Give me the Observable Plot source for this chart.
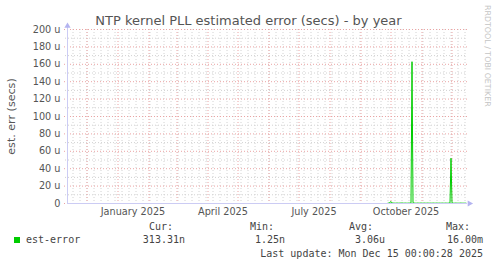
<!DOCTYPE html>
<html><head><meta charset="utf-8">
<script src="https://cdn.jsdelivr.net/npm/d3@7"></script>
<script src="https://cdn.jsdelivr.net/npm/@observablehq/plot@0.6"></script>
<style>
body{margin:0;background:#fff;}
#wrap{position:relative;width:497px;height:264px;background:#fff;overflow:hidden;}
#chart{position:absolute;left:0;top:0;}
.t{position:absolute;white-space:pre;line-height:1;}
.mono{font-family:"DejaVu Sans Mono",monospace;font-size:10px;color:#444;}
</style></head><body>
<div id="wrap">
  <div id="chart"></div>
  <div class="t" id="title" style="left:0;width:497px;text-align:center;top:14px;font-family:'DejaVu Sans';font-size:13px;color:#555;"></div>
  <div class="t" id="wm" style="left:483px;top:5px;writing-mode:vertical-rl;font-family:'DejaVu Sans';font-size:7.9px;color:#c4c4c4;"></div>
  <div id="legend"></div>
</div>
<script>
// ---- data ----
const titleText = "NTP kernel PLL estimated error (secs) - by year";
const yAxisLabel = "est. err (secs)";
const watermark = "RRDTOOL / TOBI OETIKER";
const seriesName = "est-error";
const seriesColor = "#00cc00";
// daily averages (microseconds), starting 2025-09-28
const firstDay = new Date(2025, 8, 28);
const errorMicros = [
  0.4, 0.5, 1.2,
  2.3, 0.6, 0.4, 0.5, 0.3, 0.4, 0.5, 0.4, 0.3, 0.5, 0.4, 0.6, 0.4, 0.3, 0.5, 0.4,
  0.3, 0.4, 0.5, 0.4, 0.6, 163, 0.8, 0.5, 0.4, 0.3, 0.4, 0.5, 0.3, 0.4, 0.5,
  0.4, 0.3, 0.5, 0.4, 0.3, 0.4, 0.5, 0.3, 0.4, 0.4, 0.3, 0.5, 0.4, 0.3, 0.4,
  0.5, 0.3, 0.4, 0.4, 0.3, 0.5, 0.4, 0.3, 0.4, 0.5, 0.3, 0.4, 0.4, 0.6, 52,
  0.7, 0.4, 0.3, 0.4, 0.5, 0.3, 0.4, 0.3, 0.4, 0.5, 0.3, 0.4, 0.3, 0.4, 0.31
];
const yTickValues = [0, 20, 40, 60, 80, 100, 120, 140, 160, 180, 200];
const yTickLabels = ["0", "20 u", "40 u", "60 u", "80 u", "100 u", "120 u", "140 u", "160 u", "180 u", "200 u"];
const yMinorValues = [10, 30, 50, 70, 90, 110, 130, 150, 170, 190];
const xLabelDates = [new Date(2025, 0, 16), new Date(2025, 3, 16), new Date(2025, 6, 16), new Date(2025, 9, 16)];
const xLabelTexts = ["January 2025", "April 2025", "July 2025", "October 2025"];
const statHeaders = ["Cur:", "Min:", "Avg:", "Max:"];
const statValues = ["313.31n", "1.25n", "3.06u", "16.00m"];
const lastUpdate = "Last update: Mon Dec 15 00:00:28 2025";

// ---- build ----
const xStart = new Date(2024, 10, 11, 12), xEnd = new Date(2025, 11, 16, 12);
const data = errorMicros.map((v, i) => ({date: d3.timeDay.offset(firstDay, i), value: v}));
const monthStarts = d3.timeMonth.range(xStart, xEnd);
const weekStarts = d3.timeWeek.range(xStart, xEnd);
const majorCol = "#eba4a4", minorCol = "#d2d2d2", axisCol = "#ccccf4", arrowCol = "#b4b4f0";

const chart = Plot.plot({
  width: 497, height: 224,
  marginLeft: 67, marginRight: 30, marginTop: 29, marginBottom: 21,
  style: {background: "transparent", fontFamily: "'DejaVu Sans'", fontSize: "9.7px", color: "#555", overflow: "visible"},
  x: {type: "time", domain: [xStart, xEnd]},
  y: {domain: [0, 200]},
  marks: [
    Plot.ruleY(yMinorValues, {stroke: minorCol, strokeDasharray: "1,2", insetLeft: -2}),
    Plot.ruleX(weekStarts, {stroke: minorCol, strokeDasharray: "1,2", insetBottom: -2}),
    Plot.ruleY(yTickValues, {stroke: majorCol, strokeDasharray: "1,2", insetLeft: -3}),
    Plot.ruleX(monthStarts, {stroke: majorCol, strokeDasharray: "1,2", insetBottom: -3}),
    Plot.ruleY([0], {stroke: axisCol}),
    Plot.ruleX([xStart], {stroke: axisCol, insetTop: -4}),
    Plot.lineY(data, {x: "date", y: "value", stroke: seriesColor, strokeWidth: 1, clip: true}),
    Plot.dot([{x: xEnd, y: 0}], {x: "x", y: "y", symbol: "triangle", rotate: 90, r: 2.3, fill: arrowCol, stroke: null, dx: 2}),
    Plot.dot([{x: xStart, y: 200}], {x: "x", y: "y", symbol: "triangle", r: 2.3, fill: arrowCol, stroke: null, dy: -3.5}),
    Plot.axisY(yTickValues, {tickSize: 0, tickPadding: 7, tickFormat: (d, i) => yTickLabels[i], label: null, fill: "#555"}),
    Plot.axisX(xLabelDates, {tickSize: 0, tickPadding: 5, tickFormat: (d, i) => xLabelTexts[i], label: null, fill: "#555"}),
    Plot.text([yAxisLabel], {frameAnchor: "left", rotate: -90, dx: -56, fontSize: 11.1, fill: "#555", textAnchor: "middle"})
  ]
});
document.getElementById("chart").appendChild(chart);
document.getElementById("title").textContent = titleText;
document.getElementById("wm").textContent = watermark;

const legend = document.getElementById("legend");
function addText(txt, style) {
  const d = document.createElement("div");
  d.className = "t mono";
  d.textContent = txt;
  Object.assign(d.style, style);
  legend.appendChild(d);
}
const sw = document.createElement("div");
Object.assign(sw.style, {position: "absolute", left: "14px", top: "237px", width: "6px", height: "6px", background: seriesColor});
legend.appendChild(sw);
addText(seriesName, {left: "26px", top: "235px"});
const headerLefts = [149, 250, 349, 446];
const valueRights = [185, 285, 385, 483];
statHeaders.forEach((h, i) => addText(h, {left: headerLefts[i] + "px", top: "222px"}));
statValues.forEach((v, i) => addText(v, {right: (497 - valueRights[i]) + "px", top: "235px"}));
addText(lastUpdate, {right: (497 - 483) + "px", top: "248.5px"});
</script>
</body></html>
